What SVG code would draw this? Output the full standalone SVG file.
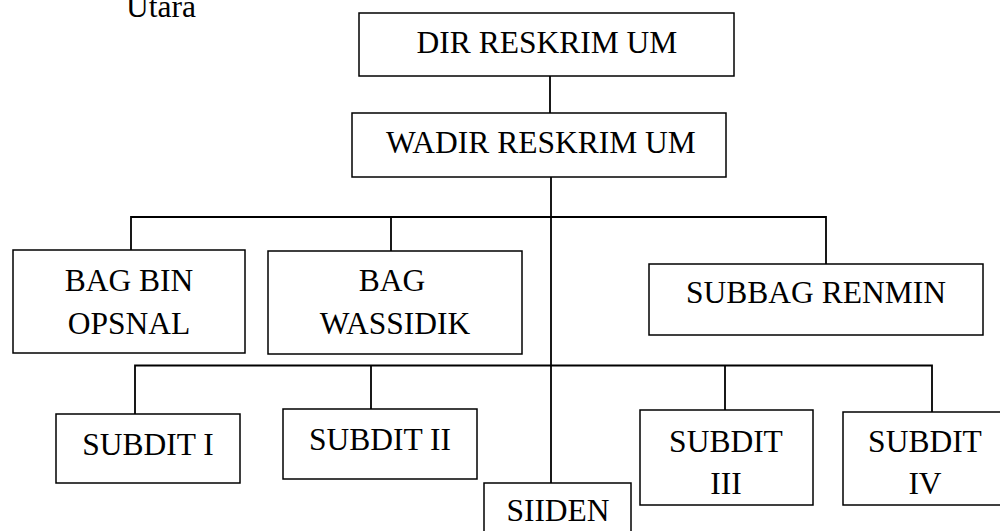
<svg xmlns="http://www.w3.org/2000/svg" width="1000" height="531" viewBox="0 0 1000 531">
<style>
.box{fill:#fff;stroke:#000;stroke-width:1.5}
.t{font-family:"Liberation Serif","Times New Roman",serif;font-size:31.5px;fill:#000;text-anchor:middle}
.ln{stroke:#000;stroke-width:1.8;fill:none}
</style>
<rect width="1000" height="531" fill="#fff"/>
<text x="126" y="17" class="t" style="text-anchor:start">Utara</text>
<g id="connectors">
<line class="ln" x1="550" y1="76" x2="550" y2="113"/>
<line class="ln" x1="551" y1="177" x2="551" y2="483"/>
<polyline class="ln" points="131,250 131,217 826,217 826,264"/>
<line class="ln" x1="391" y1="217" x2="391" y2="251"/>
<polyline class="ln" points="135,414 135,365.5 932,365.5 932,412"/>
<line class="ln" x1="371" y1="365.5" x2="371" y2="409"/>
<line class="ln" x1="725" y1="365.5" x2="725" y2="410"/>
</g>
<g id="dir"><rect class="box" x="359" y="13" width="375" height="63"/><text class="t" x="547" y="53">DIR RESKRIM UM</text></g>
<g id="wadir"><rect class="box" x="352" y="113" width="374" height="64"/><text class="t" x="541" y="153">WADIR RESKRIM UM</text></g>
<g id="bagbin"><rect class="box" x="13" y="250" width="232" height="103"/><text class="t" x="129" y="291">BAG BIN</text><text class="t" x="129" y="334">OPSNAL</text></g>
<g id="bagwassidik"><rect class="box" x="268" y="251" width="254" height="103"/><text class="t" x="392" y="291">BAG</text><text class="t" x="395" y="334">WASSIDIK</text></g>
<g id="subbag"><rect class="box" x="649" y="264" width="334" height="71"/><text class="t" x="816" y="303">SUBBAG RENMIN</text></g>
<g id="subdit1"><rect class="box" x="56" y="414" width="184" height="69"/><text class="t" x="148" y="455">SUBDIT I</text></g>
<g id="subdit2"><rect class="box" x="283" y="409" width="194" height="70"/><text class="t" x="380" y="450">SUBDIT II</text></g>
<g id="siiden"><rect class="box" x="484" y="483" width="147" height="60"/><text class="t" x="558" y="521">SIIDEN</text></g>
<g id="subdit3"><rect class="box" x="640" y="410" width="173" height="95"/><text class="t" x="726" y="452">SUBDIT</text><text class="t" x="726" y="494">III</text></g>
<g id="subdit4"><rect class="box" x="843" y="412" width="165" height="93"/><text class="t" x="925" y="452">SUBDIT</text><text class="t" x="925" y="494">IV</text></g>
</svg>
